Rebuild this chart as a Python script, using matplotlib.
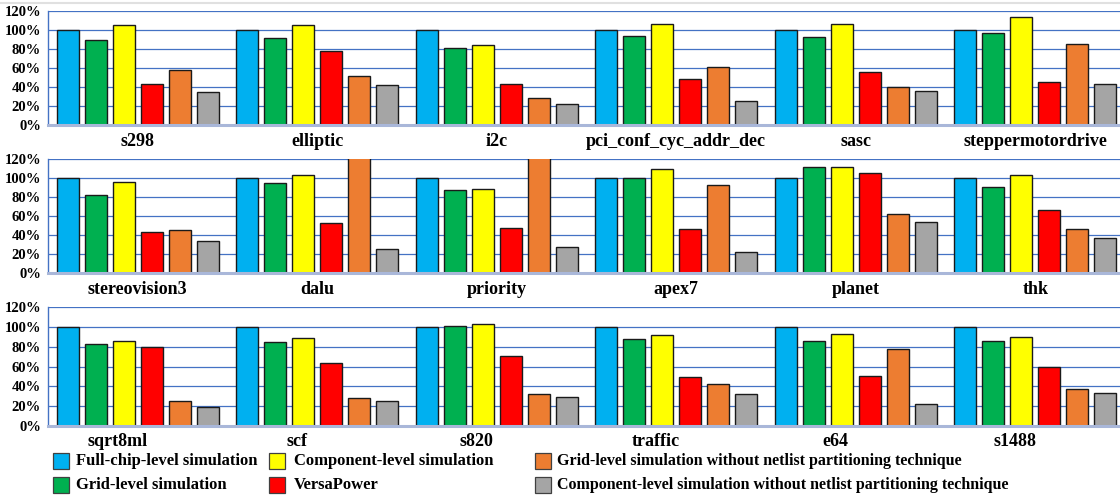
import matplotlib
matplotlib.use("Agg")
import matplotlib.pyplot as plt
from matplotlib.patches import Rectangle
from matplotlib.transforms import blended_transform_factory, ScaledTranslation

# ---------------- data ----------------
benchmarks = ["s298", "elliptic", "i2c", "pci_conf_cyc_addr_dec", "sasc", "steppermotordrive",
              "stereovision3", "dalu", "priority", "apex7", "planet", "thk",
              "sqrt8ml", "scf", "s820", "traffic", "e64", "s1488"]
series_names = ["Full-chip-level simulation", "Grid-level simulation",
                "Component-level simulation", "VersaPower",
                "Grid-level simulation without netlist partitioning technique",
                "Component-level simulation without netlist partitioning technique"]
full_chip = [100, 100, 100, 100, 100, 100, 100, 100, 100, 100, 100, 100, 100, 100, 100, 100, 100, 100]
grid_level = [90, 92, 81, 94, 93, 97, 82, 95, 87, 100, 112, 91, 83, 85, 101, 88, 86, 86]
component_level = [105, 105, 84, 106, 106, 114, 96, 103, 88, 110, 112, 103, 86, 89, 103, 92, 93, 90]
versapower = [43, 78, 43, 48, 56, 45, 43, 53, 48, 47, 105, 66, 80, 64, 71, 49, 50, 60]
grid_no_partition = [58, 52, 28, 61, 40, 85, 45, 125, 125, 93, 62, 46, 25, 28, 32, 42, 78, 37]
comp_no_partition = [35, 42, 22, 25, 36, 43, 34, 25, 28, 22, 54, 37, 19, 25, 29, 32, 22, 33]
y_ticks = [0, 20, 40, 60, 80, 100, 120]

series = [full_chip, grid_level, component_level, versapower, grid_no_partition, comp_no_partition]
colors = ["#00B0F0", "#00B050", "#FFFF00", "#FF0000", "#ED7D31", "#A5A5A5"]

# ---------------- layout ----------------
W, H = 1120, 497
fig = plt.figure(figsize=(W / 100, H / 100), dpi=100)
FONT = "Liberation Serif"
per_row = 6
row_px = [(11, 125), (159, 273.3), (307.3, 425.7)]   # (top, bottom) in pixels
label_dy_px = 16
label_dx_px = [0, 0, -20]
ax_left, ax_right = 48, 1125
slot = 0.156
bar_w = 0.121

# faint frame line at the very top, as in the reference
fig.add_artist(plt.Line2D([0, 1], [1 - 3 / H, 1 - 3 / H], transform=fig.transFigure,
                          color="#E0E0E0", linewidth=1.5))

for r, (top, bot) in enumerate(row_px):
    ax = fig.add_axes([ax_left / W, 1 - bot / H, (ax_right - ax_left) / W, (bot - top) / H])
    idx = list(range(r * per_row, (r + 1) * per_row))
    xs = list(range(per_row))
    for k, (vals, col) in enumerate(zip(series, colors)):
        ax.bar([x + (k - 2.5) * slot for x in xs], [vals[i] for i in idx], width=bar_w,
               color=col, edgecolor="#1a1a1a", linewidth=1.0, zorder=3)
    ax.set_xlim(-0.5, per_row - 0.5)
    ax.set_ylim(0, 120)
    ax.set_yticks(y_ticks)
    ax.set_yticklabels([f"{v}%" for v in y_ticks], fontfamily=FONT, fontweight="bold", fontsize=10.5)
    ax.tick_params(axis="y", length=0, pad=5)
    ax.set_xticks([])
    ax.yaxis.grid(True, color="#4472C4", linewidth=0.9, zorder=0)
    ax.set_axisbelow(True)
    for s in ("top", "right"):
        ax.spines[s].set_visible(False)
    ax.spines["left"].set_color("#4472C4")
    ax.spines["left"].set_linewidth(1.0)
    ax.spines["bottom"].set_color("#A9B7D9")
    ax.spines["bottom"].set_linewidth(2.2)
    ax.spines["bottom"].set_zorder(4)
    trans = blended_transform_factory(ax.transData, ax.transAxes) + ScaledTranslation(
        label_dx_px[r] / 100, -label_dy_px / 100, fig.dpi_scale_trans)
    for x, i in zip(xs, idx):
        ax.text(x, 0, benchmarks[i], transform=trans, ha="center", va="center",
                fontfamily=FONT, fontweight="bold", fontsize=13)

# ---------------- legend ----------------
leg_cols = [(53, 76, 12), (269, 294, 12), (535, 557, 11.5)]   # patch left, text left (px), font size
leg_rows = [461, 485]
order = [(0, 0, 0), (1, 0, 1), (2, 1, 0), (3, 1, 1), (4, 2, 0), (5, 2, 1)]
psz = 16
for si, c, rr in order:
    px, tx, fs = leg_cols[c]
    cy = leg_rows[rr]
    fig.patches.append(Rectangle((px / W, 1 - (cy + psz / 2) / H), psz / W, psz / H,
                                 transform=fig.transFigure, facecolor=colors[si],
                                 edgecolor="#404040", linewidth=0.9))
    fig.text(tx / W, 1 - cy / H, series_names[si], ha="left", va="center",
             fontfamily=FONT, fontweight="bold", fontsize=fs)

fig.savefig("out.png", dpi=100)
